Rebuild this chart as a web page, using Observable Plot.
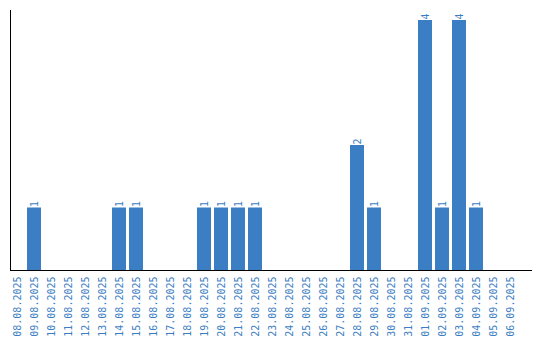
<!DOCTYPE html>
<html>
<head>
<meta charset="utf-8">
<script src="https://cdn.jsdelivr.net/npm/d3@7"></script>
<script src="https://cdn.jsdelivr.net/npm/@observablehq/plot@0.6"></script>
<style>
  html, body { margin: 0; padding: 0; background: #fff; }
</style>
</head>
<body>
<div id="chart"></div>
<script>
const dates = [
  "08.08.2025","09.08.2025","10.08.2025","11.08.2025","12.08.2025","13.08.2025",
  "14.08.2025","15.08.2025","16.08.2025","17.08.2025","18.08.2025","19.08.2025",
  "20.08.2025","21.08.2025","22.08.2025","23.08.2025","24.08.2025","25.08.2025",
  "26.08.2025","27.08.2025","28.08.2025","29.08.2025","30.08.2025","31.08.2025",
  "01.09.2025","02.09.2025","03.09.2025","04.09.2025","05.09.2025","06.09.2025"
];
const counts = [
  0,1,0,0,0,0,
  1,1,0,0,0,1,
  1,1,1,0,0,0,
  0,0,2,1,0,0,
  4,1,4,1,0,0
];
const barColor = "#3b7ec3";
const textColor = "#3b7ec3";

const data = dates.map((d, i) => ({date: d, count: counts[i]}));
const labeled = data.filter(d => d.count > 0);

const chart = Plot.plot({
  width: 540,
  height: 340,
  marginTop: 10,
  marginBottom: 70,
  marginLeft: 10,
  marginRight: 9,
  style: {fontFamily: "'DejaVu Sans Mono', monospace", fontSize: "10px", background: "#fff"},
  x: {type: "band", domain: dates, range: [8.5, 518.5], paddingInner: 3/17, paddingOuter: 3/34, align: 0.5},
  y: {domain: [0, 4.16], axis: null},
  marks: [
    Plot.barY(data, {x: "date", y: "count", fill: barColor}),
    Plot.text(labeled, {x: "date", y: "count", text: d => String(d.count), rotate: -90, textAnchor: "start", lineAnchor: "middle", dy: -1, fill: textColor, fontSize: 10}),
    Plot.axisX({tickRotate: -90, tickSize: 0, tickPadding: 6, color: textColor, fontSize: 10, label: null}),
    Plot.frame({anchor: "left", stroke: "#000"}),
    Plot.frame({anchor: "bottom", stroke: "#000"})
  ]
});
document.getElementById("chart").appendChild(chart);
</script>
</body>
</html>
